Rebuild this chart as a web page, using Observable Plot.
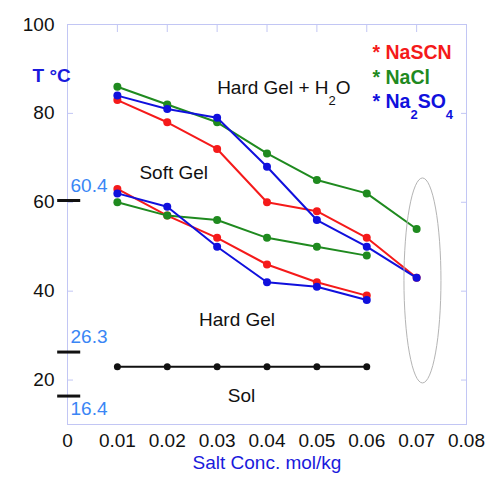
<!DOCTYPE html>
<html><head><meta charset="utf-8">
<script src="https://cdn.jsdelivr.net/npm/d3@7"></script>
<script src="https://cdn.jsdelivr.net/npm/@observablehq/plot@0.6"></script>
<style>body{margin:0;background:#fff;}</style>
</head><body><div id="chart"></div>
<script>
// ---- data ----
const conc = [0.01, 0.02, 0.03, 0.04, 0.05, 0.06, 0.07];
const nascnUpper  = [83, 78, 72, 60, 58, 52, 43];
const naclUpper   = [86, 82, 78, 71, 65, 62, 54];
const na2so4Upper = [84, 81, 79, 68, 56, 50, 43];
const lowerConc = [0.01, 0.02, 0.03, 0.04, 0.05, 0.06];
const nascnLower  = [63, 57, 52, 46, 42, 39];
const naclLower   = [60, 57, 56, 52, 50, 48];
const na2so4Lower = [62, 59, 50, 42, 41, 38];
const solConc = [0.01, 0.02, 0.03, 0.04, 0.05, 0.06];
const solTemp = [23, 23, 23, 23, 23, 23];
const seriesNames  = ["NaSCN", "NaCl", "Na_2SO_4"];
const seriesColors = ["#f51a1a", "#1f8a1f", "#1010dd"];
const markerTemps  = [60.4, 26.3, 16.4];
const markerLabels = ["60.4", "26.3", "16.4"];
const markerExtent = [-0.00197, 0.00265];
const regionText = ["Hard Gel + H_2O", "Soft Gel", "Hard Gel", "Sol"];
const regionX    = [0.03, 0.0213, 0.034, 0.0349];
const regionY    = [85.8, 66.5, 33.5, 16.4];
const regionAnchor = ["start", "middle", "middle", "middle"];
const ellipseC = [0.07127, 42.3];
const ellipseR = [0.00371, 23.06];
const xTicks = [0, 0.01, 0.02, 0.03, 0.04, 0.05, 0.06, 0.07, 0.08];
const xTickLabels = ["0", "0.01", "0.02", "0.03", "0.04", "0.05", "0.06", "0.07", "0.08"];
const yTicks = [20, 40, 60, 80, 100];
const xTitle = "Salt Conc. mol/kg";
const yTitle = "T °C";

// ---- tables ----
const upperSets = [nascnUpper, naclUpper, na2so4Upper];
const lowerSets = [nascnLower, naclLower, na2so4Lower];
const series = [];
seriesNames.forEach((name, s) => {
  upperSets[s].forEach((t, i) => series.push({key: name + "-u", s, x: conc[i], y: t}));
  lowerSets[s].forEach((t, i) => series.push({key: name + "-l", s, x: lowerConc[i], y: t}));
});
const sol = solConc.map((c, i) => ({x: c, y: solTemp[i]}));
const regions = regionText.map((t, i) => ({t, x: regionX[i], y: regionY[i], a: regionAnchor[i]}));
const markers = markerTemps.map((t, i) => ({t, label: markerLabels[i]}));

const FRAME = "#c2c6f4";
const FONT = "'Liberation Sans', Arial, sans-serif";
const LBLUE = "#3a86f5";

const marks = [
  Plot.frame({stroke: FRAME}),
  Plot.axisY([20, 40, 60, 80], {anchor: "left", tickSize: 6, dx: 6, stroke: FRAME, tickFormat: () => "", label: null}),
  Plot.axisY([20, 40, 60, 80], {anchor: "right", tickSize: 6, dx: -6, stroke: FRAME, tickFormat: () => "", label: null}),
  Plot.axisX(conc, {anchor: "top", tickSize: 7, dy: 7, stroke: FRAME, tickFormat: () => "", label: null}),
  Plot.axisY(yTicks, {anchor: "left", tickSize: 0, tickPadding: 13, fontSize: 19, label: null, fill: "#111"}),
  Plot.axisX(xTicks, {anchor: "bottom", tickSize: 0, tickPadding: 9, fontSize: 19, label: null, fill: "#111",
    tickFormat: d => xTickLabels[xTicks.indexOf(d)]}),
  Plot.text([xTitle], {frameAnchor: "bottom", dy: 44, fill: "#1a1adc", fontSize: 19}),
  Plot.text([yTitle], {frameAnchor: "top-left", dx: -35, dy: 44, fill: "#1a1adc", fontSize: 19, fontWeight: "bold"})
];
// series lines in order red, green, blue
[0, 1, 2].forEach(s => {
  const d = series.filter(r => r.s === s);
  marks.push(Plot.line(d, {x: "x", y: "y", z: "key", stroke: seriesColors[s], strokeWidth: 2}));
  marks.push(Plot.dot(d, {x: "x", y: "y", fill: seriesColors[s], r: 4}));
});
marks.push(Plot.line(sol, {x: "x", y: "y", stroke: "#111", strokeWidth: 2}));
marks.push(Plot.dot(sol, {x: "x", y: "y", fill: "#111", r: 3.5}));
marks.push(Plot.ruleY(markers, {y: "t", x1: markerExtent[0], x2: markerExtent[1], stroke: "#111", strokeWidth: 3}));
marks.push(Plot.text(markers.filter(m => m.t > 20), {y: "t", text: "label", frameAnchor: "left", dx: 3, dy: -15, textAnchor: "start", fill: LBLUE, fontSize: 19}));
marks.push(Plot.text(markers.filter(m => m.t <= 20), {y: "t", text: "label", frameAnchor: "left", dx: 3, dy: 13, textAnchor: "start", fill: LBLUE, fontSize: 19}));
regions.forEach(r => marks.push(Plot.text([r], {x: "x", y: "y", text: "t", textAnchor: r.a, fill: "#111", fontSize: 19})));
seriesNames.forEach((n, i) => marks.push(Plot.text(["* " + n], {frameAnchor: "top-left", dx: 305, dy: 21 + i * 24.5, textAnchor: "start", fill: seriesColors[i], fontSize: 19.5, fontWeight: "bold"})));

const chart = Plot.plot({
  width: 486, height: 485,
  marginLeft: 67, marginRight: 20, marginTop: 24, marginBottom: 61,
  style: {fontFamily: FONT, fontSize: "19px", background: "#fff", color: "#111"},
  x: {domain: [0, 0.08]},
  y: {domain: [10, 100]},
  marks
});

// ellipse drawn through the chart's own scales
const xs = chart.scale("x"), ys = chart.scale("y");
const ns = "http://www.w3.org/2000/svg";
const el = document.createElementNS(ns, "ellipse");
el.setAttribute("cx", xs.apply(ellipseC[0]));
el.setAttribute("cy", ys.apply(ellipseC[1]));
el.setAttribute("rx", Math.abs(xs.apply(ellipseC[0] + ellipseR[0]) - xs.apply(ellipseC[0])));
el.setAttribute("ry", Math.abs(ys.apply(ellipseC[1] + ellipseR[1]) - ys.apply(ellipseC[1])));
el.setAttribute("fill", "none");
el.setAttribute("stroke", "#b4b4b4");
el.setAttribute("stroke-width", "1");
chart.appendChild(el);

// subscripts
chart.querySelectorAll("text").forEach(t => {
  const s = t.textContent;
  if (!/_\d/.test(s)) return;
  const parts = s.split(/_(\d)/);
  while (t.firstChild) t.removeChild(t.firstChild);
  parts.forEach((p, i) => {
    if (p === "") return;
    const ts = document.createElementNS(ns, "tspan");
    ts.textContent = p;
    if (i % 2 === 1) {
      ts.setAttribute("font-size", "13");
      ts.setAttribute("dy", "11");
    } else if (i > 0) {
      ts.setAttribute("dy", "-11");
    }
    t.appendChild(ts);
  });
});
document.getElementById("chart").appendChild(chart);
</script>
</body></html>
